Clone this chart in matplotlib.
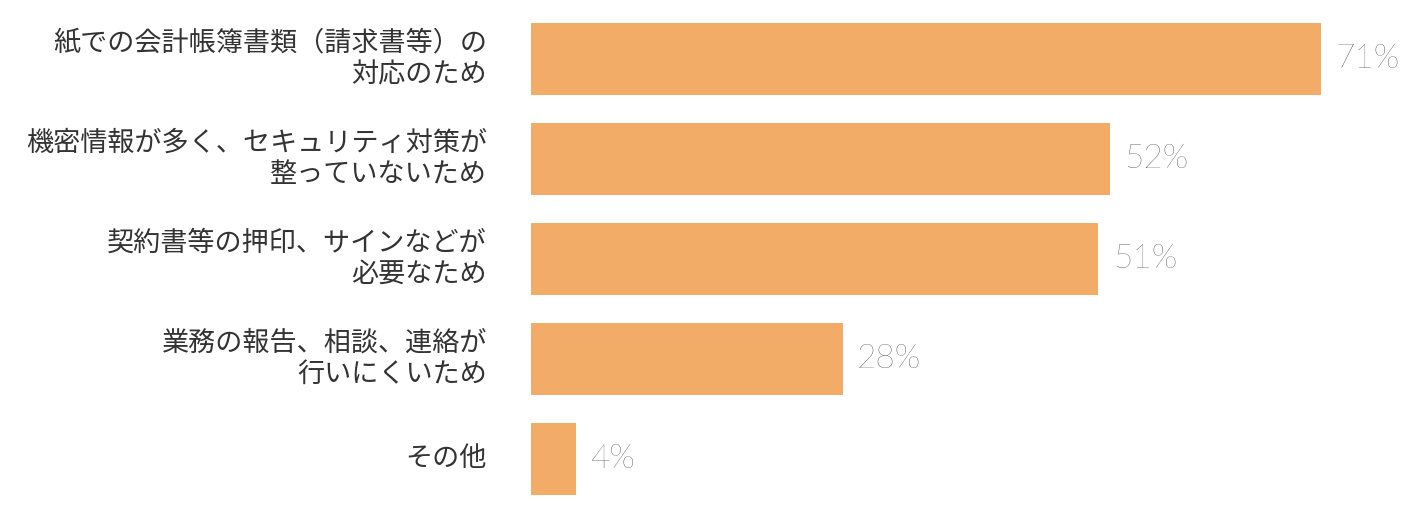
import matplotlib.pyplot as plt

plt.rcParams['font.family'] = ['Noto Sans CJK JP', 'DejaVu Sans']

categories = [
    '紙での会計帳簿書類（請求書等）の\n対応のため',
    '機密情報が多く、セキュリティ対策が\n整っていないため',
    '契約書等の押印、サインなどが\n必要なため',
    '業務の報告、相談、連絡が\n行いにくいため',
    'その他',
]
values = [71, 52, 51, 28, 4]

W, H = 1416, 520
fig = plt.figure(figsize=(W / 100, H / 100), dpi=100)
ax = fig.add_axes([531 / W, (H - 509) / H, 790 / W, 500 / H])
ax.set_xlim(0, 71)
ax.set_ylim(4.5, -0.5)
ax.axis('off')

pos = range(len(values))
ax.barh(pos, values, height=0.72, color='#F2AC67')
for y, v, lab in zip(pos, values, categories):
    ax.text(v + 1.3, y, f'{v}%', va='center', ha='left', fontsize=24,
            color='#333333', family=['Lato', 'DejaVu Sans'], fontweight='light')
    ax.text(-44 / (790 / 71), y, lab, va='center', ha='right', fontsize=19.5,
            color='#333333', linespacing=1.2)

fig.savefig('out.png', dpi=100)
